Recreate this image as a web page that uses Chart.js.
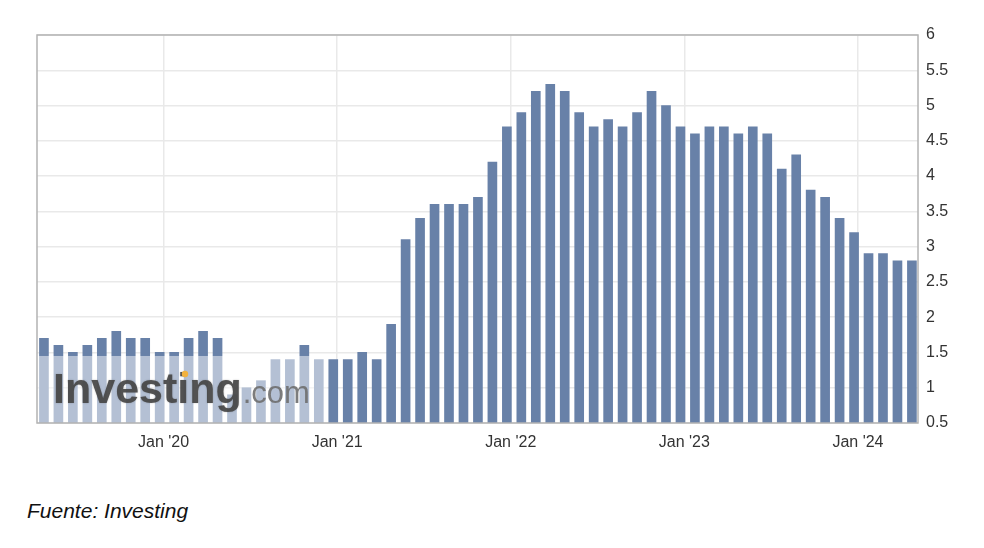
<!DOCTYPE html>
<html>
<head>
<meta charset="utf-8">
<script src="https://cdn.jsdelivr.net/npm/chart.js@4/dist/chart.umd.min.js"></script>
<style>
  html, body { margin: 0; padding: 0; background: #fff; }
  #wrap { position: relative; width: 984px; height: 548px; }
  #Chart { position: absolute; left: 0; top: 0; }
  #fuente {
    position: absolute; left: 27px; top: 500px;
    font: italic 21px "Liberation Sans", Arial, sans-serif; line-height: 21px;
    color: #111;
  }
</style>
</head>
<body>
<div id="wrap">
  <canvas id="Chart" width="984" height="470"></canvas>
  <div id="fuente">Fuente: Investing</div>
</div>
<script>
// Meses (fecha de publicación de cada dato)
var months = [
    '2019-05', '2019-06', '2019-07', '2019-08', '2019-09', '2019-10', '2019-11', '2019-12',
    '2020-01', '2020-02', '2020-03', '2020-04', '2020-05', '2020-06', '2020-07', '2020-08',
    '2020-09', '2020-10', '2020-11', '2020-12', '2021-01', '2021-02', '2021-03', '2021-04',
    '2021-05', '2021-06', '2021-07', '2021-08', '2021-09', '2021-10', '2021-11', '2021-12',
    '2022-01', '2022-02', '2022-03', '2022-04', '2022-05', '2022-06', '2022-07', '2022-08',
    '2022-09', '2022-10', '2022-11', '2022-12', '2023-01', '2023-02', '2023-03', '2023-04',
    '2023-05', '2023-06', '2023-07', '2023-08', '2023-09', '2023-10', '2023-11', '2023-12',
    '2024-01', '2024-02', '2024-03', '2024-04', '2024-05'
];

// Valores (%)
var values = [
    1.7, 1.6, 1.5, 1.6, 1.7, 1.8, 1.7, 1.7,
    1.5, 1.5, 1.7, 1.8, 1.7, 0.9, 1.0, 1.1,
    1.4, 1.4, 1.6, 1.4, 1.4, 1.4, 1.5, 1.4,
    1.9, 3.1, 3.4, 3.6, 3.6, 3.6, 3.7, 4.2,
    4.7, 4.9, 5.2, 5.3, 5.2, 4.9, 4.7, 4.8,
    4.7, 4.9, 5.2, 5.0, 4.7, 4.6, 4.7, 4.7,
    4.6, 4.7, 4.6, 4.1, 4.3, 3.8, 3.7, 3.4,
    3.2, 2.9, 2.9, 2.8, 2.8
];

// Etiquetas del eje x
var tickMonths = ['2020-01', '2021-01', '2022-01', '2023-01', '2024-01'];
var tickLabels = ["Jan '20", "Jan '21", "Jan '22", "Jan '23", "Jan '24"];

var points = values.map(function (v, i) { return {x: i, y: v}; });
var tickPos = tickMonths.map(function (m) { return months.indexOf(m) + 0.27; });

var tickFont = {family: '"Liberation Sans", Arial, sans-serif', size: 16};

// Marco gris alrededor del área + marca de agua
var framePlugin = {
    id: 'frame',
    afterDatasetsDraw: function (chart) {
        var ctx = chart.ctx, a = chart.chartArea;
        var x = chart.scales.x, y = chart.scales.y;
        ctx.save();
        // velo blanco de la marca de agua
        var wmRight = x.getPixelForValue(months.indexOf('2021-01') - 0.4);
        var wmTop = y.getPixelForValue(1.45);
        ctx.fillStyle = 'rgba(255,255,255,0.5)';
        ctx.fillRect(a.left, wmTop, wmRight - a.left, a.bottom - wmTop);
        ctx.textBaseline = 'alphabetic';
        ctx.shadowColor = 'rgba(0,0,0,0.25)';
        ctx.shadowBlur = 2;
        ctx.font = 'bold 43px "Liberation Sans", Arial, sans-serif';
        ctx.fillStyle = 'rgba(72,72,72,0.92)';
        ctx.fillText('Investing', a.left + 16, a.bottom - 20);
        var w = ctx.measureText('Investing').width;
        ctx.shadowBlur = 0;
        ctx.font = '31px "Liberation Sans", Arial, sans-serif';
        ctx.fillStyle = 'rgba(110,110,110,0.9)';
        ctx.fillText('.com', a.left + 17 + w, a.bottom - 20);
        ctx.fillStyle = '#f2b23e';
        ctx.beginPath();
        ctx.arc(a.left + 148, a.bottom - 49, 3.2, 0, Math.PI * 2);
        ctx.fill();
        // marco
        ctx.strokeStyle = '#b3b3b3';
        ctx.lineWidth = 1.5;
        ctx.strokeRect(a.left, a.top, a.right - a.left, a.bottom - a.top);
        ctx.restore();
    }
};

var context = document.getElementById('Chart').getContext('2d');

var myChart = new Chart(context, {
    type: 'bar',
    data: {
        datasets: [{
            label: 'Valor',
            data: points,
            backgroundColor: '#6881a8',
            barThickness: 9,
            borderWidth: 0
        }]
    },
    options: {
        responsive: false,
        animation: false,
        layout: {padding: {left: 37, top: 35, right: 0, bottom: 0}},
        scales: {
            x: {
                type: 'linear',
                offset: false,
                min: -0.48,
                max: values.length - 0.58,
                afterBuildTicks: function (axis) {
                    axis.ticks = tickPos.map(function (p) { return {value: p}; });
                },
                afterFit: function (axis) { axis.height = 47; },
                ticks: {
                    autoSkip: false,
                    maxRotation: 0,
                    padding: 10,
                    color: '#333',
                    font: tickFont,
                    callback: function (value, index) { return tickLabels[index]; }
                },
                grid: {offset: false, color: '#e9e9e9', lineWidth: 1.5, drawTicks: false},
                border: {display: false}
            },
            y: {
                position: 'right',
                min: 0.5,
                max: 6,
                afterFit: function (axis) { axis.width = 66; },
                ticks: {
                    stepSize: 0.5,
                    padding: 8,
                    color: '#333',
                    font: tickFont,
                    callback: function (v) { return String(v); }
                },
                grid: {color: '#e9e9e9', lineWidth: 1.5, drawTicks: false},
                border: {display: false}
            }
        },
        plugins: {
            legend: {display: false},
            tooltip: {enabled: false}
        }
    },
    plugins: [framePlugin]
});
</script>
</body>
</html>
